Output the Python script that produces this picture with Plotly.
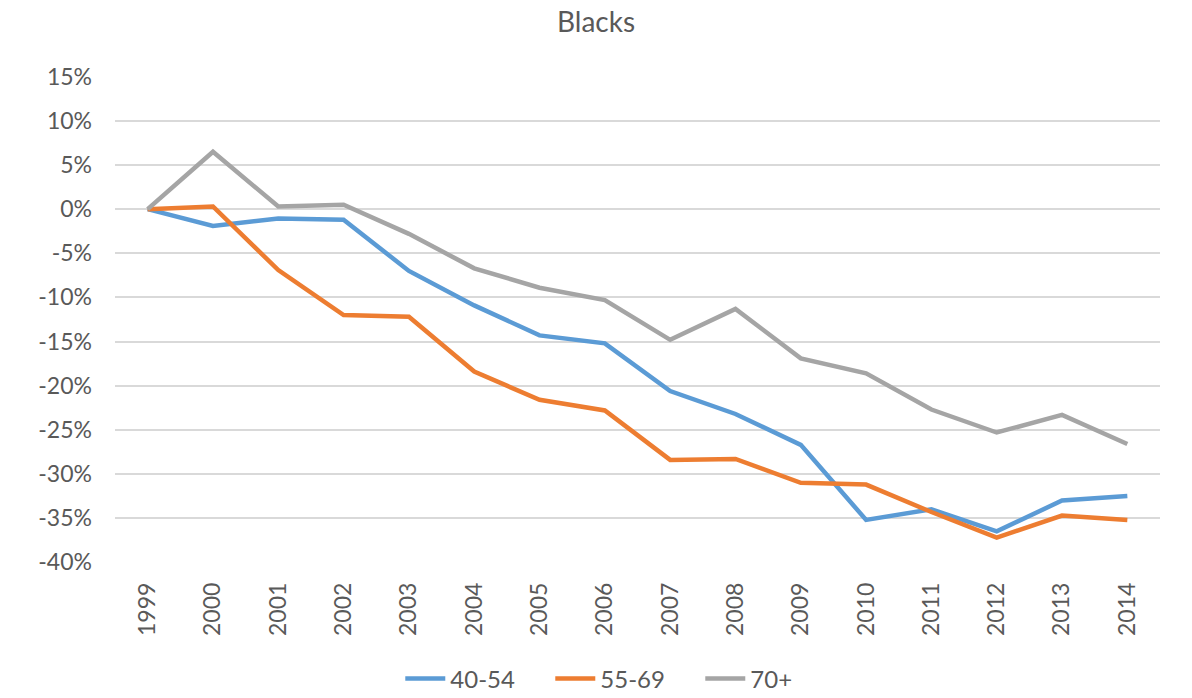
import plotly.graph_objects as go

years = [str(y) for y in range(1999, 2015)]

age_40_54 = [0.0, -1.9, -1.05, -1.2, -7.0, -10.9, -14.3, -15.2, -20.6, -23.2, -26.7, -35.2, -34.0, -36.5, -33.0, -32.5]
age_55_69 = [0.0, 0.3, -6.9, -12.0, -12.2, -18.4, -21.6, -22.8, -28.4, -28.3, -31.0, -31.2, -34.3, -37.2, -34.7, -35.2]
age_70_plus = [0.0, 6.5, 0.3, 0.5, -2.8, -6.7, -8.9, -10.3, -14.8, -11.3, -16.9, -18.6, -22.7, -25.3, -23.3, -26.6]

y_ticks = [15, 10, 5, 0, -5, -10, -15, -20, -25, -30, -35, -40]
y_tick_labels = [f"{t}%" for t in y_ticks]

series = [
    ("40-54", age_40_54, "#5B9BD5"),
    ("55-69", age_55_69, "#ED7D31"),
    ("70+", age_70_plus, "#A5A5A5"),
]

font_family = "Lato, 'Open Sans', sans-serif"
text_color = "#595959"

fig = go.Figure()
for name, vals, color in series:
    fig.add_trace(go.Scatter(
        x=years,
        y=vals,
        mode="lines",
        name=name,
        line=dict(color=color, width=4.5),
    ))

fig.update_layout(
    width=1192,
    height=698,
    paper_bgcolor="white",
    plot_bgcolor="white",
    margin=dict(l=115, r=32, t=76, b=135, autoexpand=False),
    title=dict(
        text="Blacks",
        x=0.5,
        xanchor="center",
        y=0.968,
        yanchor="middle",
        font=dict(family=font_family, size=28, color=text_color),
    ),
    font=dict(family=font_family, size=22, color=text_color),
    legend=dict(
        orientation="h",
        x=0.273,
        xanchor="left",
        y=-0.238,
        yanchor="middle",
        font=dict(family=font_family, size=24, color=text_color),
        itemwidth=40,
        entrywidth=95,
        entrywidthmode="pixels",
    ),
    showlegend=True,
)

fig.update_xaxes(
    type="category",
    range=[-0.5, 15.5],
    tickangle=-90,
    showgrid=False,
    showline=False,
    ticks="",
    automargin=False,
    ticklabelstandoff=14,
    tickfont=dict(size=23, color=text_color),
)

fig.update_yaxes(
    range=[-40.08, 15.08],
    tickvals=y_ticks,
    ticktext=y_tick_labels,
    showgrid=True,
    gridcolor="#D9D9D9",
    gridwidth=1.5,
    zeroline=False,
    showline=False,
    ticks="",
    automargin=False,
    ticklabelstandoff=22,
    tickfont=dict(size=23, color=text_color),
)

fig.write_html("out.html")
